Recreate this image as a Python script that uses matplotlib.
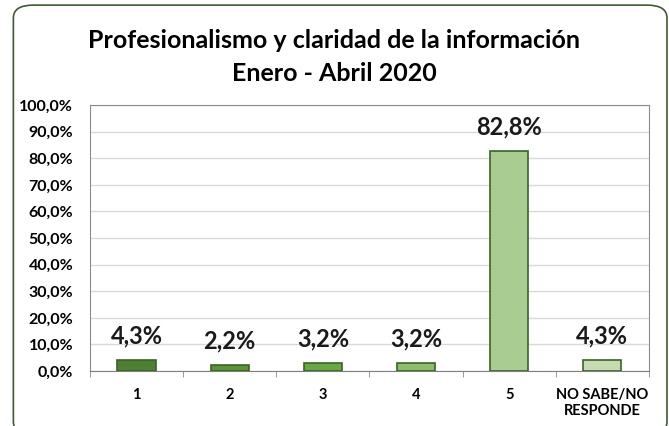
import matplotlib
matplotlib.use("Agg")
import matplotlib.pyplot as plt
from matplotlib.patches import FancyBboxPatch
from matplotlib.ticker import FuncFormatter, FixedLocator

categories = ["1", "2", "3", "4", "5", "NO SABE/NO\nRESPONDE"]
values = [4.3, 2.2, 3.2, 3.2, 82.8, 4.3]
colors = ["#4f7f32", "#5c9339", "#6aa846", "#8dbd6b", "#a9cc93", "#c5dcb3"]
title = "Profesionalismo y claridad de la información\nEnero - Abril 2020"

plt.rcParams["font.family"] = ["Lato", "DejaVu Sans"]

fig = plt.figure(figsize=(6.69, 4.26), dpi=100)
ax = fig.add_axes([0.1345, 0.129, 0.8355, 0.6245])

x = list(range(len(categories)))
ax.bar(x, values, width=0.41, color=colors, edgecolor="#3a6328", linewidth=1.2, zorder=3)

for xi, v in zip(x, values):
    ax.annotate(f"{v:.1f}%".replace(".", ","), xy=(xi, v), xytext=(0, 9),
                textcoords="offset points", ha="center", va="bottom",
                fontsize=17, fontweight="bold", color="#1a1a1a")

ax.set_xlim(-0.5, len(categories) - 0.5)
ax.set_ylim(0, 100)
ax.set_yticks(range(0, 101, 10))
ax.yaxis.set_major_formatter(FuncFormatter(lambda v, p: f"{v:.1f}%".replace(".", ",")))
ax.set_xticks(x)
ax.set_xticklabels(categories, fontsize=10.5, fontweight="bold")
ax.xaxis.set_minor_locator(FixedLocator([i + 0.5 for i in range(-1, len(categories))]))
ax.tick_params(axis="x", which="major", length=0, pad=12)
ax.tick_params(axis="x", which="minor", length=4, color="#888888")
ax.tick_params(axis="y", length=0, labelsize=11.5, pad=12)
for lab in ax.get_yticklabels():
    lab.set_fontweight("bold")

ax.grid(axis="y", color="#d9d9d9", linewidth=1, zorder=0)
for side in ["top", "right", "left"]:
    ax.spines[side].set_color("#8c8c8c")
ax.spines["bottom"].set_color("#7f7f7f")

fig.text(0.5, 0.866, title, ha="center", va="center", fontsize=18, fontweight="bold",
         linespacing=1.5, color="#000000")

frame = FancyBboxPatch((0.02, -0.02), 0.977, 1.008, boxstyle="round,pad=0,rounding_size=0.03",
                       transform=fig.transFigure, facecolor="none", edgecolor="#3f5a35",
                       linewidth=1.2)
fig.patches.append(frame)

fig.savefig("out.png", dpi=100)
